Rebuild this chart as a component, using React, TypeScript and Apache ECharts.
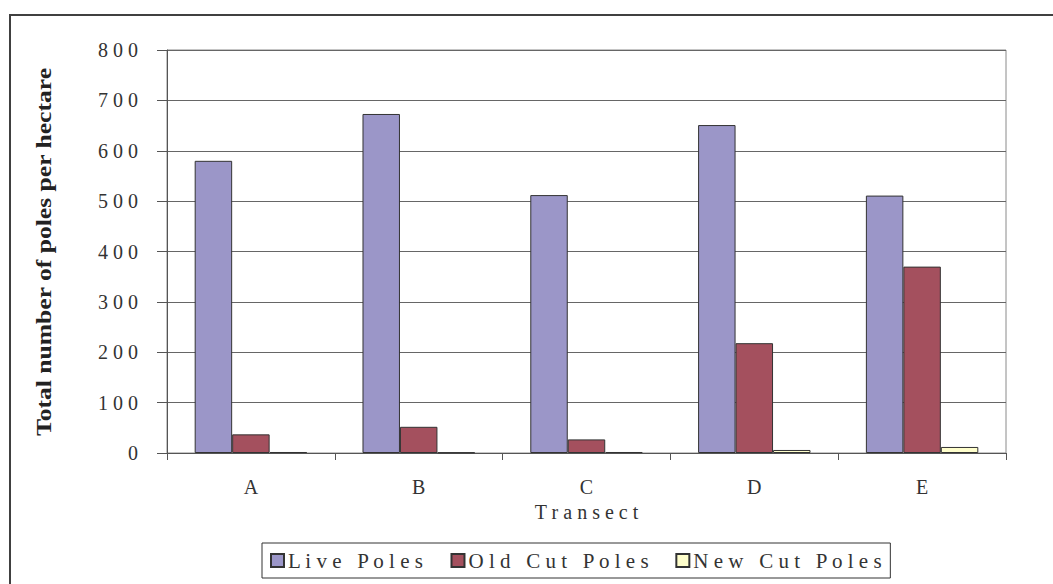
import React, { useEffect, useRef } from "react";
import * as echarts from "echarts";

const categories = ["A", "B", "C", "D", "E"];
const livePoles = [580, 673, 512, 651, 511];
const oldCutPoles = [37, 52, 27, 218, 370];
const newCutPoles = [2, 1, 2, 6, 12];
const yTicks = { min: 0, max: 800, interval: 100 };
const yTitle = "Total number of poles per hectare";
const xTitle = "Transect";

const FONT = "'Liberation Serif', 'Times New Roman', serif";
const spaced = (s: string) => s.split("").join(" ");

export default function App() {
  const ref = useRef<HTMLDivElement>(null);
  useEffect(() => {
    if (!ref.current) return;
    const chart = echarts.init(ref.current, undefined, { renderer: "svg" });
    const barItem = (color: string) => ({ color, borderColor: "#333", borderWidth: 1 });
    chart.setOption({
      animation: false,
      backgroundColor: "#fff",
      textStyle: { fontFamily: FONT, color: "#333" },
      graphic: [
        {
          type: "rect",
          shape: { x: 10, y: 15, width: 1100, height: 620 },
          style: { fill: "none", stroke: "#404040", lineWidth: 2 },
          silent: true,
        },
        {
          type: "text",
          x: 44,
          y: 252,
          rotation: Math.PI / 2,
          scaleX: 1.28,
          style: {
            text: yTitle,
            font: `bold 20px ${FONT}`,
            fill: "#222",
            align: "center",
            verticalAlign: "middle",
          },
          silent: true,
        },
      ],
      grid: {
        left: 167,
        top: 50,
        right: 47,
        bottom: 131,
        show: true,
        borderColor: "#8a8a8a",
        borderWidth: 1,
      },
      legend: {
        left: 262,
        top: 543,
        itemWidth: 13,
        itemHeight: 13,
        itemGap: 26,
        padding: [7, 8, 7, 8],
        borderColor: "#333",
        borderWidth: 1,
        icon: "rect",
        textStyle: { fontFamily: FONT, fontSize: 21, color: "#333", padding: [0, 0, 0, -1] },
        formatter: (name: string) => spaced(name),
        data: ["Live Poles", "Old Cut Poles", "New Cut Poles"],
      },
      xAxis: {
        type: "category",
        data: categories,
        name: spaced(xTitle),
        nameLocation: "middle",
        nameGap: 43,
        nameTextStyle: { fontFamily: FONT, fontSize: 20, color: "#333" },
        axisLine: { lineStyle: { color: "#555", width: 1 } },
        axisTick: { show: true, length: 7, lineStyle: { color: "#555" } },
        axisLabel: { fontFamily: FONT, fontSize: 20, color: "#333", margin: 24 },
      },
      yAxis: {
        type: "value",
        min: yTicks.min,
        max: yTicks.max,
        interval: yTicks.interval,
        axisLine: { show: true, lineStyle: { color: "#555", width: 1 } },
        axisTick: { show: true, length: 10, lineStyle: { color: "#555" } },
        axisLabel: {
          fontFamily: FONT,
          fontSize: 20,
          color: "#333",
          margin: 29,
          formatter: (v: number) => spaced(String(v)),
        },
        splitLine: { show: true, lineStyle: { color: "#666", width: 1 } },
      },
      series: [
        {
          name: "Live Poles",
          type: "bar",
          data: livePoles,
          barGap: "0%",
          barCategoryGap: "33%",
          itemStyle: barItem("#9B96C8"),
        },
        {
          name: "Old Cut Poles",
          type: "bar",
          data: oldCutPoles,
          barGap: "0%",
          barCategoryGap: "33%",
          itemStyle: barItem("#A4505E"),
        },
        {
          name: "New Cut Poles",
          type: "bar",
          data: newCutPoles,
          barGap: "0%",
          barCategoryGap: "33%",
          itemStyle: barItem("#FFFFCC"),
        },
      ],
    });
    return () => chart.dispose();
  }, []);
  return (
    <div
      ref={ref}
      style={{ position: "fixed", left: 0, top: 0, width: 1053, height: 584 }}
    />
  );
}
